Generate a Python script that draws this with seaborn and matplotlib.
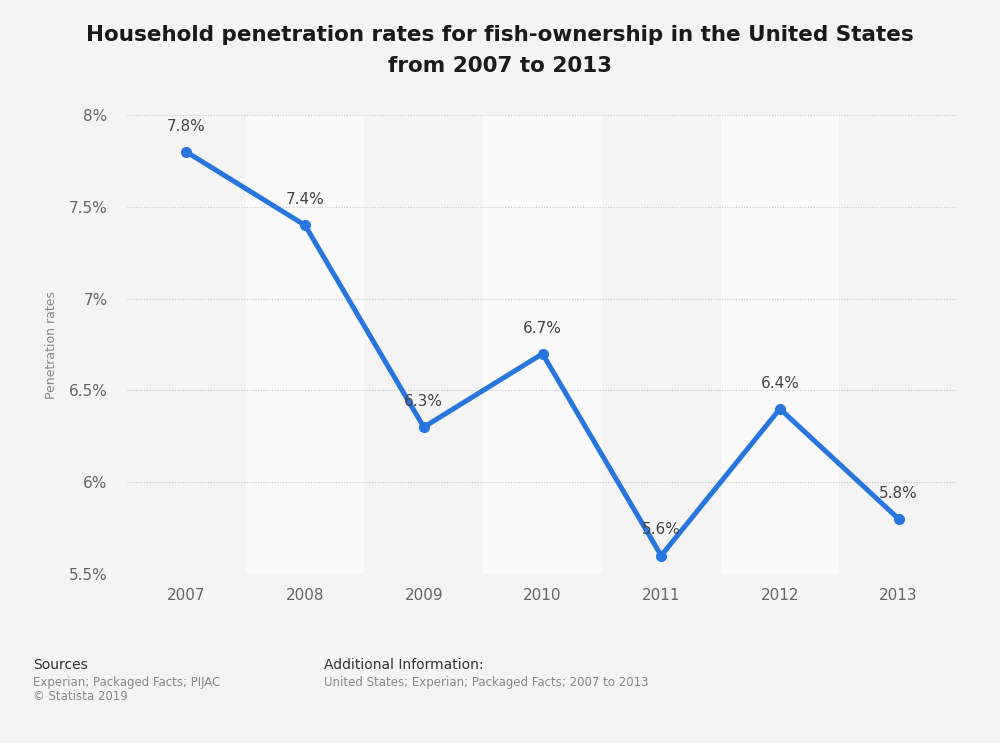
import matplotlib
matplotlib.use("Agg")
import matplotlib.pyplot as plt
import seaborn as sns
import pandas as pd

# Data
years = ["2007", "2008", "2009", "2010", "2011", "2012", "2013"]
rates = [7.8, 7.4, 6.3, 6.7, 5.6, 6.4, 5.8]
y_ticks = [5.5, 6, 6.5, 7, 7.5, 8]
y_tick_labels = ["5.5%", "6%", "6.5%", "7%", "7.5%", "8%"]

df = pd.DataFrame({"pos": range(len(years)), "year": years, "rate": rates})

sns.set_style("white")
plt.rcParams["font.family"] = ["DejaVu Sans"]

bg = "#f4f4f4"
fig = plt.figure(figsize=(10, 7.43), dpi=100, facecolor=bg)
ax = fig.add_axes([0.127, 0.2275, 0.831, 0.6175])
ax.set_facecolor(bg)

# alternating column bands
for i in range(len(years)):
    if i % 2 == 1:
        ax.axvspan(i - 0.5, i + 0.5, color="#fafafa", zorder=0, lw=0)

# grid
for t in y_ticks:
    ax.axhline(t, color="#c8c8c8", lw=0.8, ls=(0, (1, 1.5)), zorder=1)

sns.lineplot(data=df, x="pos", y="rate", ax=ax, color="#2876dd", lw=3.6,
             marker="o", markersize=8, markeredgewidth=0, zorder=3)

for _, r in df.iterrows():
    ax.annotate(f"{r['rate']:.1f}%", (r["pos"], r["rate"]), xytext=(0, 18.5),
                textcoords="offset points", ha="center", va="center",
                fontsize=11, color="#444444", zorder=4)

ax.set_xlim(-0.5, len(years) - 0.5)
ax.set_ylim(5.5, 8)
ax.set_xticks(range(len(years)))
ax.set_xticklabels(years)
ax.set_yticks(y_ticks)
ax.set_yticklabels(y_tick_labels)
ax.tick_params(axis="both", length=0, labelsize=11, labelcolor="#666666")
ax.tick_params(axis="x", pad=10)
ax.tick_params(axis="y", pad=14)
ax.set_xlabel("")
ax.set_ylabel("Penetration rates", fontsize=9, color="#888888", labelpad=8)
for s in ax.spines.values():
    s.set_visible(False)

fig.text(0.5, 0.932, "Household penetration rates for fish-ownership in the United States\nfrom 2007 to 2013",
         ha="center", va="center", fontsize=15.5, fontweight="bold", color="#1a1a1a",
         linespacing=1.7)

fig.text(0.033, 0.105, "Sources", fontsize=10, color="#333333", va="center")
fig.text(0.033, 0.082, "Experian; Packaged Facts; PIJAC", fontsize=8.5, color="#888888", va="center")
fig.text(0.033, 0.062, "© Statista 2019", fontsize=8.5, color="#888888", va="center")
fig.text(0.324, 0.105, "Additional Information:", fontsize=10, color="#333333", va="center")
fig.text(0.324, 0.082, "United States; Experian; Packaged Facts; 2007 to 2013", fontsize=8.5,
         color="#888888", va="center")

fig.savefig("out.png", dpi=100, facecolor=bg)
